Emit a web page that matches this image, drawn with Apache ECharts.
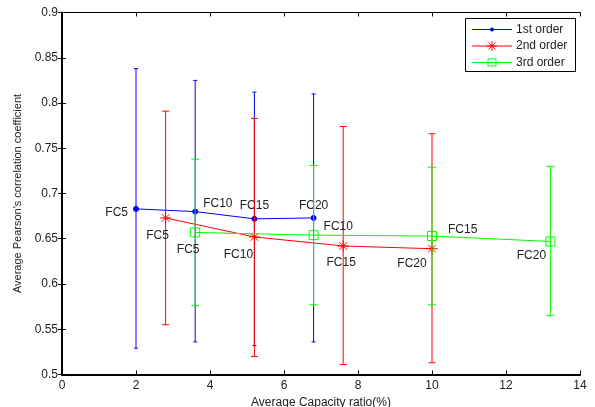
<!DOCTYPE html>
<html>
<head>
<meta charset="utf-8">
<script src="https://cdn.jsdelivr.net/npm/echarts@6/dist/echarts.min.js"></script>
<style>
  html, body { margin: 0; padding: 0; background: #fff; }
  #chart { width: 595px; height: 407px; }
</style>
</head>
<body>
<div id="chart"></div>
<script>
// point names, same for every order
var pointNames = ['FC5', 'FC10', 'FC15', 'FC20'];

// 1st order
var x1 = [2, 3.6, 5.2, 6.8];
var y1 = [0.683, 0.680, 0.672, 0.673];
var lo1 = [0.529, 0.536, 0.532, 0.536];
var hi1 = [0.838, 0.825, 0.812, 0.810];

// 2nd order
var x2 = [2.8, 5.2, 7.6, 10];
var y2 = [0.673, 0.652, 0.642, 0.639];
var lo2 = [0.555, 0.520, 0.511, 0.513];
var hi2 = [0.791, 0.783, 0.774, 0.766];

// 3rd order
var x3 = [3.6, 6.8, 10, 13.2];
var y3 = [0.657, 0.654, 0.653, 0.647];
var lo3 = [0.576, 0.577, 0.577, 0.565];
var hi3 = [0.738, 0.731, 0.729, 0.730];

var seriesNames = ['1st order', '2nd order', '3rd order'];

var FONT = 'Liberation Sans, Arial, sans-serif';
var TXT = '#222';

// label placement per point (style only)
var labelPlace = [
    [{p: 'left', o: [0, 4]}, {p: 'right', o: [0, -8]}, {p: 'top', o: [0, 1]}, {p: 'top', o: [0, 2]}],
    [{p: 'bottom', o: [-8, 1]}, {p: 'bottom', o: [-16, 1]}, {p: 'bottom', o: [-2, 0]}, {p: 'bottom', o: [-20, -2]}],
    [{p: 'bottom', o: [-7, 1]}, {p: 'right', o: [0, -8]}, {p: 'right', o: [6, -6]}, {p: 'bottom', o: [-19, -2]}]
];

function lineData(xs, ys, k) {
    var out = [];
    for (var i = 0; i < xs.length; i++) {
        out.push({
            value: [xs[i], ys[i]],
            label: { position: labelPlace[k][i].p, offset: labelPlace[k][i].o }
        });
    }
    return out;
}

function errData(xs, lo, hi) {
    var out = [];
    for (var i = 0; i < xs.length; i++) out.push([xs[i], lo[i], hi[i]]);
    return out;
}

function errSeries(name, data, color, capHalf, z) {
    return {
        name: name,
        type: 'custom',
        z: z,
        silent: true,
        encode: { x: 0, y: [1, 2] },
        data: data,
        renderItem: function (params, api) {
            var x = api.value(0);
            var p1 = api.coord([x, api.value(1)]);
            var p2 = api.coord([x, api.value(2)]);
            var st = { stroke: color, lineWidth: 1 };
            return {
                type: 'group',
                children: [
                    { type: 'line', shape: { x1: p1[0], y1: p1[1], x2: p2[0], y2: p2[1] }, style: st },
                    { type: 'line', shape: { x1: p1[0] - capHalf, y1: p1[1], x2: p1[0] + capHalf, y2: p1[1] }, style: st },
                    { type: 'line', shape: { x1: p2[0] - capHalf, y1: p2[1], x2: p2[0] + capHalf, y2: p2[1] }, style: st }
                ]
            };
        }
    };
}

function lineSeries(name, data, color, symbol, size, fill, z) {
    return {
        name: name,
        type: 'line',
        z: z,
        data: data,
        symbol: symbol,
        symbolSize: size,
        showAllSymbol: true,
        lineStyle: { color: color, width: 1 },
        itemStyle: { color: fill, borderColor: color, borderWidth: 1 },
        label: {
            show: true,
            fontFamily: FONT,
            fontSize: 12,
            color: TXT,
            formatter: function (p) { return pointNames[p.dataIndex]; }
        },
        emphasis: { disabled: true }
    };
}

var asterisk = 'path://M0,5L10,5M5,0L5,10M1.5,1.5L8.5,8.5M8.5,1.5L1.5,8.5';

// legend box drawn by hand (MATLAB style)
var rowY = [29.5, 46, 62.5];
var legColors = ['#0000ff', '#ff0000', '#00ff00'];
function seg(x1, y1, x2, y2, color, z) {
    return { type: 'line', z: z, shape: { x1: x1, y1: y1, x2: x2, y2: y2 }, style: { stroke: color, lineWidth: 1 } };
}
function legendGraphics() {
    var g = [{
        type: 'rect', z: 100,
        shape: { x: 465.5, y: 18.5, width: 110, height: 53 },
        style: { fill: '#fff', stroke: '#000', lineWidth: 1 }
    }];
    for (var i = 0; i < 3; i++) {
        var cy = rowY[i];
        g.push(seg(472, cy, 512, cy, legColors[i], 101));
        g.push({
            type: 'text', z: 101, x: 516, y: cy,
            style: { text: seriesNames[i], fill: TXT, font: '12px ' + FONT, verticalAlign: 'middle' }
        });
    }
    g.push({ type: 'circle', z: 102, shape: { cx: 492, cy: rowY[0], r: 2 }, style: { fill: legColors[0] } });
    var c = rowY[1];
    g.push(seg(487, c, 497, c, legColors[1], 102));
    g.push(seg(492, c - 5, 492, c + 5, legColors[1], 102));
    g.push(seg(488.5, c - 3.5, 495.5, c + 3.5, legColors[1], 102));
    g.push(seg(495.5, c - 3.5, 488.5, c + 3.5, legColors[1], 102));
    g.push({
        type: 'rect', z: 102,
        shape: { x: 488, y: rowY[2] - 3.5, width: 8, height: 7 },
        style: { stroke: legColors[2], lineWidth: 1, fill: 'none' }
    });
    return g;
}

var chart = echarts.init(document.getElementById('chart'), null, { width: 595, height: 407 });

var option = {
    animation: false,
    backgroundColor: '#fff',
    grid: { left: 62, right: 15, top: 12.5, bottom: 32.5, containLabel: false, outerBoundsMode: 'none' },
    xAxis: [{
        type: 'value',
        min: 0, max: 14, interval: 2,
        name: 'Average Capacity ratio(%)',
        nameLocation: 'middle',
        nameGap: 19,
        nameTextStyle: { fontFamily: FONT, fontSize: 12, color: TXT },
        axisLine: { lineStyle: { color: '#000', width: 2 } },
        axisTick: { inside: true, length: 4, lineStyle: { color: '#000' } },
        axisLabel: { margin: 5, fontFamily: FONT, fontSize: 12, color: TXT },
        splitLine: { show: false }
    }, {
        type: 'value',
        position: 'top',
        min: 0, max: 14, interval: 2,
        axisLine: { lineStyle: { color: '#000', width: 1 } },
        axisTick: { inside: true, length: 4, lineStyle: { color: '#000' } },
        axisLabel: { show: false },
        splitLine: { show: false }
    }],
    yAxis: [{
        type: 'value',
        min: 0.5, max: 0.9, interval: 0.05,
        name: "Average Pearson's correlation coefficient",
        nameLocation: 'middle',
        nameGap: 36,
        nameTextStyle: { fontFamily: FONT, fontSize: 11, color: TXT },
        axisLine: { show: true, lineStyle: { color: '#000', width: 2 } },
        axisTick: { show: true, inside: true, length: 4, lineStyle: { color: '#000' } },
        axisLabel: { margin: 4, fontFamily: FONT, fontSize: 12, color: TXT },
        splitLine: { show: false }
    }, {
        type: 'value',
        position: 'right',
        min: 0.5, max: 0.9, interval: 0.05,
        axisLine: { show: true, lineStyle: { color: '#000', width: 1 } },
        axisTick: { show: true, inside: true, length: 4, lineStyle: { color: '#000' } },
        axisLabel: { show: false },
        splitLine: { show: false }
    }],
    graphic: legendGraphics(),
    series: [
        errSeries('err1', errData(x1, lo1, hi1), '#0000ff', 2, 1),
        lineSeries(seriesNames[0], lineData(x1, y1, 0), '#0000ff', 'circle', 5, '#0000ff', 2),
        errSeries('err2', errData(x2, lo2, hi2), '#ff0000', 3.5, 3),
        lineSeries(seriesNames[1], lineData(x2, y2, 1), '#ff0000', asterisk, 11, 'rgba(0,0,0,0)', 4),
        errSeries('err3', errData(x3, lo3, hi3), '#00ff00', 4, 5),
        lineSeries(seriesNames[2], lineData(x3, y3, 2), '#00ff00', 'rect', 9, 'rgba(0,0,0,0)', 6)
    ]
};

chart.setOption(option);
</script>
</body>
</html>
